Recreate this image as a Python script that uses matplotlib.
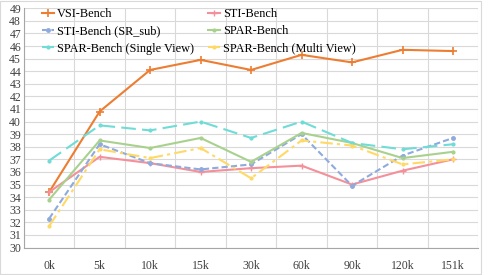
import matplotlib
matplotlib.use("Agg")
import matplotlib.pyplot as plt
from matplotlib.patches import Rectangle

plt.rcParams["font.family"] = ["Liberation Serif", "DejaVu Serif"]

steps = ["0k", "5k", "10k", "15k", "30k", "60k", "90k", "120k", "151k"]

vsi = [34.4, 40.8, 44.1, 44.9, 44.1, 45.3, 44.7, 45.7, 45.6]
sti = [34.4, 37.2, 36.7, 36.0, 36.3, 36.5, 35.0, 36.1, 37.0]
sti_sr = [32.3, 38.2, 36.7, 36.2, 36.6, 39.0, 34.9, 37.3, 38.7]
spar = [33.8, 38.5, 37.9, 38.7, 36.8, 39.1, 38.3, 37.1, 37.6]
spar_single = [36.9, 39.7, 39.3, 40.0, 38.7, 40.0, 38.3, 37.8, 38.2]
spar_multi = [31.7, 37.8, 37.1, 37.9, 35.5, 38.5, 38.1, 36.6, 37.0]

fig = plt.figure(figsize=(4.88, 2.75), dpi=100)
ax = fig.add_axes([0.049, 0.1, 0.931, 0.87])
x = range(len(steps))

h_vsi, = ax.plot(x, vsi, color="#ED7D31", lw=1.5, marker="+", ms=6, mew=1.2, label="VSI-Bench")
h_sti, = ax.plot(x, sti, color="#F4909A", lw=1.5, marker="+", ms=4, mew=1, label="STI-Bench")
h_sr, = ax.plot(x, sti_sr, color="#8FAADC", lw=1.5, ls=(0, (3, 1.5)), marker="o", ms=2.5,
                label="STI-Bench (SR_sub)")
h_spar, = ax.plot(x, spar, color="#A9D18E", lw=1.5, marker="o", ms=2, label="SPAR-Bench")
h_single, = ax.plot(x, spar_single, color="#6FDCD6", lw=1.5, ls=(0, (7, 3)), marker="o", ms=2,
                    label="SPAR-Bench (Single View)")
h_multi, = ax.plot(x, spar_multi, color="#FFD966", lw=1.5, ls=(0, (6, 2, 1.5, 2)), marker="o", ms=2,
                   label="SPAR-Bench (Multi View)")

ax.set_xlim(-0.5, len(steps) - 0.5)
ax.set_ylim(30, 49)
ax.set_yticks(range(30, 50))
ax.set_xticks(list(x))
ax.set_xticklabels(steps)
ax.set_xticks([i + 0.5 for i in range(-1, len(steps))], minor=True)
ax.tick_params(axis="both", which="both", length=0, labelsize=8.5, colors="#404040")
ax.tick_params(axis="x", pad=9)
ax.tick_params(axis="y", pad=2)
ax.grid(True, axis="y", which="major", color="#D9D9D9", lw=0.8)
ax.grid(True, axis="x", which="minor", color="#D9D9D9", lw=0.8)
ax.set_axisbelow(True)
for s in ("top", "right"):
    ax.spines[s].set_visible(False)
for s in ("left", "bottom"):
    ax.spines[s].set_color("#A6A6A6")

# row-major order like the original (matplotlib fills columns first)
hs = [h_vsi, h_sr, h_single, h_sti, h_spar, h_multi]
ax.legend(hs, [h.get_label() for h in hs], loc="upper left", bbox_to_anchor=(0.028, 1.02),
          ncol=2, frameon=False, fontsize=8.8, handlelength=1.0, handletextpad=0.25,
          columnspacing=1.15, labelspacing=0.42, borderaxespad=0)

fig.patches.append(Rectangle((0.001, 0.002), 0.984, 0.996, transform=fig.transFigure,
                             fill=False, edgecolor="#D9D9D9", lw=0.8))
fig.savefig("out.png", dpi=100, facecolor="white")
